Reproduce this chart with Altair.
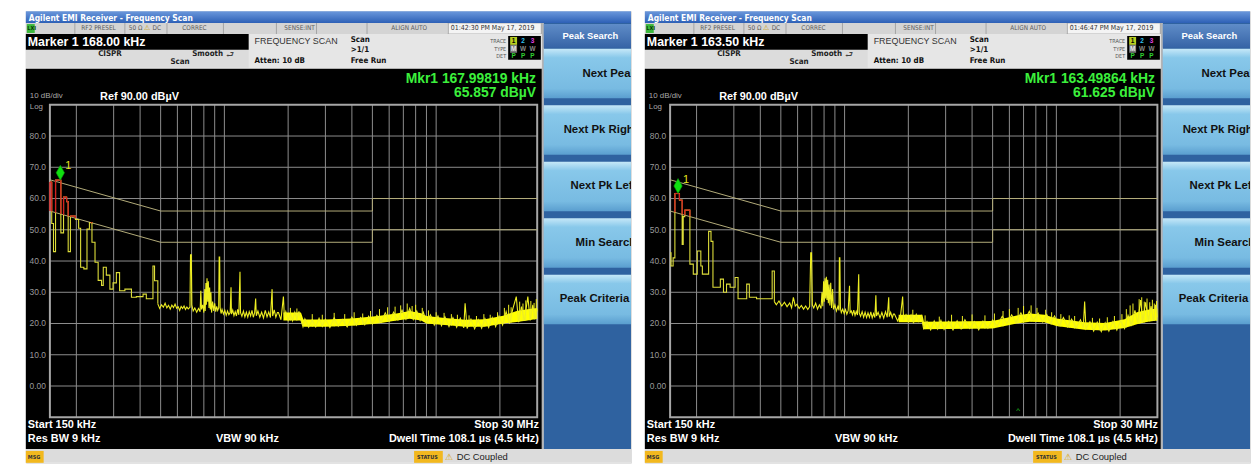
import math
import altair as alt
import pandas as pd

# ---------------- values ----------------
F_START_KHZ, F_STOP_KHZ = 150, 30000
REF_LO_DB, REF_HI_DB = -10, 90
GRID_F_KHZ = [200, 300, 400, 500, 600, 700, 800, 900,
              1000, 2000, 3000, 4000, 5000, 6000, 7000, 8000, 9000, 10000, 20000]
GRID_DB = [0, 10, 20, 30, 40, 50, 60, 70, 80]
Y_TICK_LABELS = ["0.00", "10.0", "20.0", "30.0", "40.0", "50.0", "60.0", "70.0", "80.0"]

QP_LIMIT_F = [150, 500, 5000, 5000, 30000]
QP_LIMIT_DB = [66, 56, 56, 60, 60]
AV_LIMIT_F = [150, 500, 5000, 5000, 30000]
AV_LIMIT_DB = [56, 46, 46, 50, 50]

# ----- left screen -----
L_STEP_F = [150, 153, 156, 159.5, 169, 174, 180, 183, 187.5, 198, 205, 209.5, 217, 224.5, 230.5,
            237, 245, 253.5, 263, 268, 277, 288, 298, 309, 320, 339, 364, 384, 413, 428, 460, 468, 485]
L_STEP_DB = [65.3, 52.0, 43.0, 65.9, 49.0, 60.5, 59.0, 43.0, 54.4, 53.3, 50.5, 38.0, 37.5, 50.2, 52.3,
             46.0, 39.6, 33.8, 32.2, 38.0, 35.5, 31.0, 33.0, 36.3, 30.5, 31.0, 28.4, 28.6, 29.4, 27.9,
             38.4, 33.7, 26.3]
L_NOISE_F = [485, 495, 505, 515, 525, 535, 545, 555, 565, 575, 585, 595, 605, 615, 625, 635, 645, 655,
             665, 675, 688, 692, 698, 702, 712, 725, 740, 755, 768, 774, 780, 790, 800, 808, 812, 818,
             822, 828, 834, 840, 846, 852, 858, 864, 870, 880, 890, 900, 910, 920, 930, 940, 945, 950,
             955, 965, 975, 990, 1005, 1020, 1035, 1050, 1065, 1075, 1080, 1095, 1110, 1125, 1140, 1155,
             1170, 1185, 1192, 1210, 1230, 1250, 1270, 1290, 1310, 1330, 1350, 1370, 1390, 1405, 1415,
             1440, 1470, 1500, 1530, 1560, 1590, 1620, 1650, 1680, 1690, 1720, 1750, 1780]
L_NOISE_DB = [26.3, 24.8, 26.0, 25.2, 26.5, 25.0, 25.8, 24.6, 25.9, 25.1, 26.2, 24.9, 25.4, 24.2, 25.5,
              24.8, 25.6, 24.5, 25.3, 24.7, 25.2, 42.0, 42.0, 26.0, 24.0, 25.0, 23.6, 24.8, 23.8, 30.5,
              24.5, 26.0, 23.5, 31.0, 24.0, 33.0, 26.0, 34.5, 27.0, 33.5, 25.0, 31.5, 24.5, 30.0, 23.5,
              27.0, 24.0, 26.5, 23.8, 25.5, 24.2, 25.0, 41.3, 41.3, 25.0, 23.2, 24.5, 23.0, 24.2, 22.6,
              24.0, 22.8, 23.5, 31.6, 23.0, 24.3, 22.5, 23.8, 22.4, 24.5, 22.8, 36.6, 23.5, 22.3, 24.0,
              22.1, 23.6, 22.0, 23.8, 22.4, 24.2, 22.0, 23.5, 28.0, 22.5, 24.0, 22.0, 23.6, 21.8, 24.2,
              22.1, 23.7, 21.9, 31.0, 22.4, 24.4, 22.0, 23.5]
L_FLOOR_MHZ = [1.80, 1.85, 1.90, 1.92, 1.95, 2.00, 2.05, 2.10, 2.15, 2.20, 2.25, 2.30, 2.35, 2.40, 2.50,
               2.60, 2.70, 2.80, 2.90, 3.00, 3.15, 3.30, 3.45, 3.60, 3.80, 4.00, 4.20, 4.40, 4.60, 4.80,
               5.00, 5.25, 5.50, 5.75, 6.00, 6.30, 6.60, 6.90, 7.20, 7.50, 7.80, 8.10, 8.40, 8.70, 9.00,
               9.40, 9.80, 10.2, 10.6, 11.0, 11.5, 12.0, 12.5, 13.0, 13.5, 13.7, 14.0, 14.6, 15.2, 15.8,
               16.4, 17.0, 17.7, 18.4, 19.1, 19.8, 20.6, 21.4, 22.2, 23.0, 23.9, 24.5, 25.3, 26.1, 27.1,
               27.8, 28.6, 29.3, 30.0]
L_FLOOR_DB = [23.5, 21.2, 28.6, 22.0, 23.8, 21.0, 23.2, 20.9, 23.6, 21.4, 23.9, 21.0, 19.0, 21.5, 18.8,
              21.2, 18.9, 21.7, 19.1, 21.4, 18.7, 21.8, 19.2, 21.3, 18.9, 22.0, 19.4, 21.9, 19.6, 22.3,
              19.8, 22.6, 20.4, 23.4, 20.8, 23.6, 21.1, 24.3, 21.4, 24.8, 21.3, 24.0, 21.0, 23.6, 20.3,
              22.8, 19.5, 22.4, 19.3, 22.2, 19.0, 21.9, 18.8, 21.7, 18.6, 26.5, 18.4, 21.4, 18.3, 21.2,
              18.5, 21.6, 18.7, 21.9, 19.0, 22.4, 19.5, 23.8, 20.0, 24.6, 28.6, 20.4, 25.4, 20.8, 28.6,
              21.0, 26.0, 21.3, 24.5]
L_BAND_MHZ = [1.9, 2.3, 2.36, 3.0, 4.0, 5.3, 6.5, 7.5, 8.5, 9.0, 11, 13.7, 17, 20.7, 24, 27, 30]
L_BAND_LO = [21.0, 21.0, 19.0, 19.0, 19.3, 20.0, 21.0, 21.5, 21.0, 20.0, 19.5, 19.0, 19.0, 20.0, 20.5, 21.0, 21.5]
L_BAND_HI = [23.5, 23.5, 21.3, 21.3, 21.6, 22.4, 23.2, 24.0, 23.3, 22.4, 21.8, 21.2, 21.4, 22.5, 24.0, 24.6, 25.0]
L_SPIKE_MHZ = [2.05, 2.2, 2.6, 2.9, 3.3, 3.7, 4.1, 4.5, 4.9, 5.4, 5.9, 6.4, 6.8, 7.3, 7.7, 8.0, 8.6, 9.2,
               10.0, 10.9, 11.8, 12.6, 14.3, 15.5, 16.8, 18.0, 19.5, 21.0, 22.0, 22.6, 24.8, 25.7, 26.5,
               28.0, 29.0, 29.7]
L_SPIKE_DB = [25.0, 24.8, 23.0, 22.8, 23.4, 23.0, 23.6, 23.2, 24.0, 24.6, 25.2, 25.4, 25.8, 26.4, 25.6,
              26.0, 25.0, 24.2, 23.6, 23.4, 23.0, 22.8, 22.6, 22.4, 23.0, 22.8, 23.6, 25.0, 26.0, 25.2,
              27.0, 26.4, 27.4, 27.2, 26.6, 27.8]
L_MARKER = [168.0, 65.857]

# ----- right screen -----
R_STEP_F = [150, 151.5, 155, 158, 166, 171, 173, 176, 186, 193, 201.5, 209.5, 213, 228, 234, 239, 259,
            268, 277, 288, 304, 314, 345, 355, 384, 455, 466]
R_STEP_DB = [42.6, 38.4, 41.0, 61.6, 59.5, 45.3, 54.2, 56.3, 39.0, 35.8, 43.2, 38.4, 35.8, 49.5, 46.3,
             31.6, 34.2, 30.0, 32.6, 31.6, 34.7, 27.9, 32.6, 28.4, 27.9, 36.8, 27.0]
R_NOISE_F = [466, 476, 490, 505, 520, 535, 551, 562, 573, 585, 596, 610, 625, 640, 655, 670, 684, 692,
             698, 704, 715, 730, 745, 760, 774, 782, 789, 796, 802, 808, 814, 820, 826, 832, 838, 845,
             852, 860, 868, 878, 886, 900, 915, 930, 941, 945, 950, 956, 965, 980, 995, 1010, 1025, 1040,
             1055, 1062, 1075, 1090, 1105, 1120, 1135, 1150, 1166, 1172, 1190, 1210, 1230, 1250, 1270,
             1290, 1310, 1330, 1350, 1370, 1390, 1405, 1415, 1440, 1470, 1500, 1530, 1560, 1590, 1616,
             1625, 1650, 1680, 1700]
R_NOISE_DB = [27.0, 26.0, 27.2, 25.6, 26.8, 25.4, 26.6, 25.0, 28.4, 25.6, 26.2, 24.8, 25.8, 24.6, 25.6,
              24.5, 25.4, 42.6, 42.6, 26.0, 25.0, 26.5, 24.6, 26.0, 24.8, 30.0, 25.5, 33.5, 27.0, 34.5,
              28.0, 35.0, 27.5, 34.0, 26.5, 32.5, 25.8, 33.0, 25.0, 31.0, 24.5, 26.0, 24.0, 25.5, 24.2,
              41.0, 41.0, 24.8, 23.5, 24.6, 23.2, 24.5, 23.0, 24.2, 32.1, 23.5, 24.0, 22.8, 24.3, 22.6,
              23.9, 22.7, 35.8, 23.4, 22.3, 23.8, 22.0, 23.6, 21.9, 23.4, 22.0, 23.7, 21.8, 23.2, 21.9,
              29.0, 22.4, 23.6, 21.8, 23.5, 21.7, 23.8, 22.0, 28.4, 22.2, 23.6, 21.8, 23.0]
R_FLOOR_MHZ = [1.72, 1.78, 1.84, 1.88, 1.90, 1.95, 2.00, 2.06, 2.12, 2.18, 2.24, 2.30, 2.36, 2.45, 2.55,
               2.65, 2.75, 2.85, 2.95, 3.10, 3.25, 3.40, 3.55, 3.70, 3.90, 4.10, 4.30, 4.50, 4.75, 5.00,
               5.25, 5.55, 5.85, 6.15, 6.45, 6.80, 7.10, 7.45, 7.80, 8.20, 8.60, 9.00, 9.40, 9.80, 10.3,
               10.8, 11.3, 11.8, 12.4, 13.0, 13.4, 13.6, 13.8, 14.4, 15.0, 15.6, 16.3, 17.0, 17.7, 18.5,
               19.3, 20.1, 21.0, 21.8, 22.6, 23.5, 24.2, 25.0, 25.6, 26.4, 27.2, 28.0, 28.8, 29.4, 30.0]
R_FLOOR_DB = [23.0, 20.8, 22.9, 28.6, 21.0, 22.8, 20.6, 22.7, 20.4, 22.9, 20.7, 22.4, 18.4, 20.6, 18.0,
              20.8, 18.2, 21.0, 18.1, 20.7, 17.9, 20.9, 18.3, 21.2, 18.4, 20.6, 18.0, 20.8, 18.5, 21.1,
              19.2, 22.3, 20.0, 22.8, 20.4, 23.4, 20.8, 23.9, 21.0, 23.3, 20.5, 22.9, 20.0, 22.4, 19.3,
              21.9, 18.9, 21.4, 18.7, 21.2, 18.6, 27.0, 18.4, 20.6, 17.6, 20.4, 17.4, 20.3, 17.6, 20.6,
              17.9, 20.9, 18.4, 22.6, 19.6, 24.2, 20.2, 27.5, 20.6, 26.8, 21.0, 25.6, 20.8, 26.0, 22.0]
R_BAND_MHZ = [1.8, 2.33, 2.37, 5.0, 6.5, 7.5, 8.8, 10, 13.6, 17, 21, 24, 27, 30]
R_BAND_LO = [20.4, 20.4, 18.2, 18.4, 20.0, 20.6, 20.4, 19.2, 18.0, 17.8, 18.6, 19.8, 20.6, 21.0]
R_BAND_HI = [22.8, 22.8, 20.6, 20.8, 22.6, 23.2, 22.8, 21.6, 20.4, 20.2, 21.4, 23.6, 24.4, 24.8]
R_SPIKE_MHZ = [2.1, 2.4, 2.8, 3.2, 3.6, 4.0, 4.6, 5.1, 5.6, 6.0, 6.6, 7.0, 7.6, 8.1, 8.9, 9.5, 10.5, 11.5,
               12.2, 14.8, 16.0, 17.4, 18.8, 20.4, 21.4, 22.3, 23.0, 24.6, 25.3, 26.0, 26.8, 27.6, 28.4,
               29.0, 29.7]
R_SPIKE_DB = [24.4, 22.6, 22.2, 22.8, 22.4, 22.9, 22.6, 23.2, 24.0, 24.6, 25.0, 25.6, 25.8, 25.0, 24.4,
              23.6, 23.0, 22.6, 22.4, 21.8, 21.6, 22.0, 22.4, 23.0, 24.6, 25.8, 26.4, 27.8, 28.4, 27.0,
              28.0, 26.8, 27.6, 26.4, 27.2]
R_MARKER = [163.5, 61.625]
R_CARET_KHZ = 6600

# ---------------- styling ----------------
SANS = "Liberation Sans, Arial, Helvetica, sans-serif"
NARROW = "Liberation Sans Narrow, Arial Narrow, DejaVu Sans Condensed, sans-serif"
PANEL_W, PANEL_H = 611, 456
PLOT_W = 492
Y_BOTTOM, Y_TOP = 410, 94.5
ONE = alt.Data(values=[{}])

TITLE_GRAD = alt.LinearGradient(gradient="linear", x1=0, x2=0, y1=0, y2=1, stops=[
    alt.GradientStop(color="#6b98dc", offset=0), alt.GradientStop(color="#2d60b6", offset=1)])
BTN_GRAD = alt.LinearGradient(gradient="linear", x1=0, x2=0, y1=0, y2=1, stops=[
    alt.GradientStop(color="#c6e8f8", offset=0), alt.GradientStop(color="#88c8ea", offset=0.18),
    alt.GradientStop(color="#78bbe2", offset=0.8), alt.GradientStop(color="#5a9ecf", offset=1)])
HEAD_GRAD = alt.LinearGradient(gradient="linear", x1=0, x2=0, y1=0, y2=1, stops=[
    alt.GradientStop(color="#5f8cc8", offset=0), alt.GradientStop(color="#3664a6", offset=1)])


def vrect(x1, x2, y1, y2, fill):
    return alt.Chart(ONE).mark_rect(fill=fill, strokeWidth=0).encode(
        x=alt.value(x1), x2=alt.value(x2), y=alt.value(y1), y2=alt.value(y2))


def vtext(text, x, y, size, color, weight="normal", align="left", font=SANS):
    return alt.Chart(ONE).mark_text(text=text, align=align, baseline="middle", fontSize=size,
                                    fontWeight=weight, color=color, font=font, clip=True).encode(
        x=alt.value(x), y=alt.value(y))


def log_interp(fx, fs, vs):
    for i in range(len(fs) - 1):
        a, b = fs[i], fs[i + 1]
        if a <= fx <= b and b > a:
            t = math.log10(fx / a) / math.log10(b / a)
            return vs[i] + t * (vs[i + 1] - vs[i])
    return vs[-1] if fx > fs[-1] else vs[0]


def red_parts(fs, vs):
    """Parts of the step trace that lie above the average limit line."""
    horiz, vert = [], []
    lim = lambda f: log_interp(f, AV_LIMIT_F, AV_LIMIT_DB)
    for i in range(len(fs)):
        f, v = fs[i], vs[i]
        if i + 1 < len(fs):
            fn = fs[i + 1]
            if v > lim(fn):
                start = f
                if v <= lim(f):
                    t = (AV_LIMIT_DB[0] - v) / (AV_LIMIT_DB[0] - AV_LIMIT_DB[1])
                    start = AV_LIMIT_F[0] * (AV_LIMIT_F[1] / AV_LIMIT_F[0]) ** t
                horiz.append({"f1": start, "f2": fn, "v": v})
        prev = vs[i - 1] if i > 0 else -100
        lo = max(min(prev, v), lim(f))
        hi = max(prev, v)
        if hi > lo:
            vert.append({"f": f, "v1": lo, "v2": hi})
    return pd.DataFrame(horiz), pd.DataFrame(vert)


def panel(cfg):
    x0 = cfg["x0"]
    xs = alt.Scale(type="log", domain=[F_START_KHZ, F_STOP_KHZ], range=[x0, x0 + PLOT_W], nice=False)
    ys = alt.Scale(domain=[REF_LO_DB, REF_HI_DB], range=[Y_BOTTOM, Y_TOP], nice=False, zero=False)
    X = lambda f: alt.X(f, type="quantitative", scale=xs, axis=None)
    Y = lambda f: alt.Y(f, type="quantitative", scale=ys, axis=None)

    L = []
    # ---- instrument chrome ----
    L.append(vrect(0, PANEL_W, 0, 12, TITLE_GRAD))
    L.append(vrect(0, 521, 12, 23, "#d4d4d4"))
    L.append(vrect(426, 520, 13, 22, "#f4f4f4"))
    for sx in [49, 99.5, 142, 199, 252.5, 293, 344, 426, 520]:
        L.append(vrect(sx, sx + 1, 12, 23, "#a4a4a4"))
    L.append(vrect(1, 9, 13, 22, "#3cb83c"))
    L.append(vrect(0, 521, 23, 58, "#e6e6e6"))
    L.append(vrect(0, 225, 39, 57, "#dcdcdc"))
    L.append(vrect(0, 225, 23, 39, "#000000"))
    L.append(vrect(487, 520, 25, 49, "#000000"))
    L.append(vrect(489, 496, 26, 34, "#b8d020"))
    L.append(vrect(489, 496, 34, 42, "#7a7a7a"))
    L.append(vrect(0, 521, 58, 442, "#000000"))
    L.append(vrect(521, 523, 12, 442, "#b4b4b4"))
    L.append(vrect(523, PANEL_W, 12, 442, "#2f62a0"))
    L.append(vrect(523, PANEL_W, 13, 37, HEAD_GRAD))
    for top in [38, 95, 152, 209, 266]:
        L.append(vrect(523, PANEL_W, top, top + 50, BTN_GRAD))
    L.append(vrect(0, PANEL_W, 442, 456, "#dcdcdc"))
    L.append(vrect(0, 18, 444, 456, "#f2b81e"))
    L.append(vrect(392, 421, 444, 456, "#f2b81e"))

    # ---- chrome text ----
    L.append(vtext("Agilent EMI Receiver  - Frequency Scan", 3, 6.5, 8.5, "#ffffff", "bold", font=NARROW))
    L.append(vtext("LXI", 1.5, 17.5, 5.5, "#0a3a0a", "bold", font=NARROW))
    for txt, tx in [("RF2 PRESEL", 56), ("50 Ω", 104), ("DC", 128), ("CORREC", 158),
                    ("SENSE:INT", 261), ("ALIGN AUTO", 369)]:
        L.append(vtext(txt, tx, 17.5, 6.5, "#5a5a5a", font=NARROW))
    L.append(vtext("⚠", 119, 17.5, 7, "#c89a00"))
    L.append(vtext(cfg["stamp"], 429, 17.5, 7, "#333333", font=NARROW))
    L.append(vtext(cfg["marker_text"], 2, 31, 12.5, "#ffffff", "bold"))
    L.append(vtext("FREQUENCY SCAN", 231, 30, 9, "#333333"))
    L.append(vtext("Scan", 328, 29.5, 8, "#111111", "bold", font=NARROW))
    L.append(vtext(">1/1", 328, 39.5, 8, "#111111", "bold", font=NARROW))
    L.append(vtext("Free Run", 328, 50.5, 8, "#111111", "bold", font=NARROW))
    L.append(vtext("CISPR", 73, 43, 8, "#222222", "bold", font=NARROW))
    L.append(vtext("Smooth", 168, 43, 8, "#222222", "bold", font=NARROW))
    L.append(vtext("Scan", 146, 51.5, 8, "#222222", "bold", font=NARROW))
    L.append(vtext("⮐", 202, 43, 9, "#444444"))
    L.append(vtext("Atten: 10 dB", 231, 50.5, 8, "#111111", "bold", font=NARROW))
    for txt, ty in [("TRACE", 30), ("TYPE", 38), ("DET", 45.5)]:
        L.append(vtext(txt, 485, ty, 5.5, "#555555", align="right", font=NARROW))
    for txt, tx, ty, col in [("1", 492.5, 30, "#000000"), ("2", 502, 30, "#30c0f0"), ("3", 511.5, 30, "#e040e0"),
                             ("M", 492.5, 38, "#e8e8e8"), ("W", 502, 38, "#8a8a8a"), ("W", 511.5, 38, "#8a8a8a"),
                             ("P", 492.5, 45.5, "#30d030"), ("P", 502, 45.5, "#30d030"), ("P", 511.5, 45.5, "#30d030")]:
        L.append(vtext(txt, tx, ty, 6.5, col, "bold", align="center"))
    L.append(vtext(cfg["mkr_f"], 515, 69, 14, "#3cf03c", "bold", align="right"))
    L.append(vtext(cfg["mkr_v"], 515, 83, 14, "#3cf03c", "bold", align="right"))
    L.append(vtext("10 dB/div", 4, 86, 8, "#a8a8a8"))
    L.append(vtext("Ref 90.00 dBµV", 75, 86.5, 11, "#ffffff", "bold"))
    L.append(vtext("Log", 4, 96.5, 8, "#a8a8a8"))
    L.append(vtext("Start 150 kHz", 2, 418, 11, "#ffffff", "bold"))
    L.append(vtext("Res BW 9 kHz", 2, 432, 11, "#ffffff", "bold"))
    L.append(vtext("VBW 90 kHz", 192, 432, 11, "#ffffff", "bold"))
    L.append(vtext("Stop 30 MHz", 518, 418, 11, "#ffffff", "bold", align="right"))
    L.append(vtext("Dwell Time 108.1 µs (4.5 kHz)", 518, 432, 11, "#ffffff", "bold", align="right"))
    L.append(vtext("Peak Search", 570, 25, 9.5, "#ffffff", "bold", align="center"))
    # soft-key labels run past the right edge of the screenshot, as in the reference
    for txt, tx, ty in [("Next Peak", 562, 63), ("Next Pk Right", 543, 120), ("Next Pk Left", 550, 177),
                        ("Min Search", 555, 234), ("Peak Criteria", 539, 291)]:
        L.append(vtext(txt, tx, ty, 11.5, "#111111", "bold"))
    L.append(vtext("MSG", 2, 450.5, 5.5, "#333333", "bold", font=NARROW))
    L.append(vtext("STATUS", 395, 450.5, 5.5, "#333333", "bold", font=NARROW))
    L.append(vtext("⚠", 427, 450, 9, "#d8a000", align="center"))
    L.append(vtext("DC Coupled", 435, 450, 9.5, "#222222"))

    # ---- graticule ----
    gx = pd.DataFrame({"f": GRID_F_KHZ, "lo": REF_LO_DB, "hi": REF_HI_DB})
    L.append(alt.Chart(gx).mark_rule(color="#8e8e8e", strokeWidth=1).encode(x=X("f"), y=Y("lo"), y2="hi"))
    gy = pd.DataFrame({"v": GRID_DB, "f1": F_START_KHZ, "f2": F_STOP_KHZ, "lab": Y_TICK_LABELS})
    L.append(alt.Chart(gy).mark_rule(color="#8e8e8e", strokeWidth=1).encode(x=X("f1"), x2="f2", y=Y("v")))
    frame = pd.DataFrame({"f1": [F_START_KHZ], "f2": [F_STOP_KHZ], "lo": [REF_LO_DB], "hi": [REF_HI_DB]})
    L.append(alt.Chart(frame).mark_rect(fillOpacity=0, stroke="#a6a6a6", strokeWidth=2).encode(
        x=X("f1"), x2="f2", y=Y("lo"), y2="hi"))
    L.append(alt.Chart(gy).mark_text(align="right", baseline="middle", fontSize=8.5, color="#9a9a9a",
                                     font=SANS).encode(x=alt.value(x0 - 4), y=Y("v"), text="lab:N"))

    # ---- limit lines ----
    lim = pd.DataFrame({"f": QP_LIMIT_F + AV_LIMIT_F, "v": QP_LIMIT_DB + AV_LIMIT_DB,
                        "g": ["qp"] * len(QP_LIMIT_F) + ["av"] * len(AV_LIMIT_F),
                        "i": list(range(len(QP_LIMIT_F))) + list(range(len(AV_LIMIT_F)))})
    L.append(alt.Chart(lim).mark_line(color="#b4ad7a", strokeWidth=1).encode(
        x=X("f"), y=Y("v"), detail="g:N", order="i:Q"))

    # ---- trace ----
    band_khz = [m * 1000 for m in cfg["band_f"]]
    band = pd.DataFrame({"f": band_khz, "lo": cfg["band_lo"], "hi": cfg["band_hi"]})
    L.append(alt.Chart(band).mark_area(color="#ffff00", opacity=1).encode(x=X("f"), y=Y("lo"), y2="hi"))
    spk_f = [m * 1000 for m in cfg["spike_f"]]
    spikes = pd.DataFrame({"f": spk_f, "top": cfg["spike_db"],
                           "base": [log_interp(f, band_khz, cfg["band_lo"]) for f in spk_f]})
    L.append(alt.Chart(spikes).mark_rule(color="#f2f224", strokeWidth=1).encode(
        x=X("f"), y=Y("base"), y2="top"))
    noise = pd.DataFrame({"f": cfg["noise_f"] + [m * 1000 for m in cfg["floor_f"]],
                          "v": cfg["noise_db"] + cfg["floor_db"]})
    noise["i"] = range(len(noise))
    L.append(alt.Chart(noise).mark_line(color="#eeee22", strokeWidth=1.1).encode(
        x=X("f"), y=Y("v"), order="i:Q"))
    step = pd.DataFrame({"f": cfg["step_f"], "v": cfg["step_db"]})
    L.append(alt.Chart(step).mark_line(color="#dede3a", strokeWidth=1.1, interpolate="step-after").encode(
        x=X("f"), y=Y("v")))
    rh, rv = red_parts(cfg["step_f"], cfg["step_db"])
    if len(rh):
        L.append(alt.Chart(rh).mark_rule(color="#d42020", strokeWidth=1.3).encode(
            x=X("f1"), x2="f2", y=Y("v")))
    if len(rv):
        L.append(alt.Chart(rv).mark_rule(color="#d42020", strokeWidth=1.3).encode(
            x=X("f"), y=Y("v1"), y2="v2"))

    # ---- marker ----
    mk = pd.DataFrame({"f": [cfg["marker"][0]], "v": [cfg["marker"][1]]})
    L.append(alt.Chart(mk).mark_point(shape="M0,-1L0.28,-0.5L0,0L-0.28,-0.5Z", size=900, filled=True,
                                      color="#10e010", opacity=1, stroke="#0a9a0a", strokeWidth=0.6).encode(
        x=X("f"), y=Y("v")))
    L.append(alt.Chart(mk).mark_text(text="1", dx=8, dy=-14, fontSize=11, color="#e6e61e", font=SANS,
                                     align="center", baseline="middle").encode(x=X("f"), y=Y("v")))
    if cfg.get("caret"):
        ct = pd.DataFrame({"f": [cfg["caret"]], "v": [REF_LO_DB]})
        L.append(alt.Chart(ct).mark_text(text="^", dy=-2, fontSize=8, color="#20c020", font=SANS,
                                         align="center", baseline="bottom").encode(x=X("f"), y=Y("v")))

    return alt.layer(*L).properties(width=PANEL_W, height=PANEL_H)


LEFT = dict(x0=24.3, marker_text="Marker 1 168.00 kHz", stamp="01:42:30 PM May 17, 2019",
            mkr_f="Mkr1  167.99819 kHz", mkr_v="65.857 dBµV",
            step_f=L_STEP_F, step_db=L_STEP_DB, noise_f=L_NOISE_F, noise_db=L_NOISE_DB,
            floor_f=L_FLOOR_MHZ, floor_db=L_FLOOR_DB, band_f=L_BAND_MHZ, band_lo=L_BAND_LO,
            band_hi=L_BAND_HI, spike_f=L_SPIKE_MHZ, spike_db=L_SPIKE_DB, marker=L_MARKER)
RIGHT = dict(x0=25.5, marker_text="Marker 1 163.50 kHz", stamp="01:46:47 PM May 17, 2019",
             mkr_f="Mkr1  163.49864 kHz", mkr_v="61.625 dBµV",
             step_f=R_STEP_F, step_db=R_STEP_DB, noise_f=R_NOISE_F, noise_db=R_NOISE_DB,
             floor_f=R_FLOOR_MHZ, floor_db=R_FLOOR_DB, band_f=R_BAND_MHZ, band_lo=R_BAND_LO,
             band_hi=R_BAND_HI, spike_f=R_SPIKE_MHZ, spike_db=R_SPIKE_DB, marker=R_MARKER,
             caret=R_CARET_KHZ)

chart = alt.hconcat(panel(LEFT), panel(RIGHT), spacing=12).properties(
    padding={"left": 17, "top": 0, "right": 0, "bottom": 0}
).configure_view(strokeWidth=0).configure(background="#ffffff")

chart.save("out.html", embed_options={"renderer": "svg", "actions": False})
